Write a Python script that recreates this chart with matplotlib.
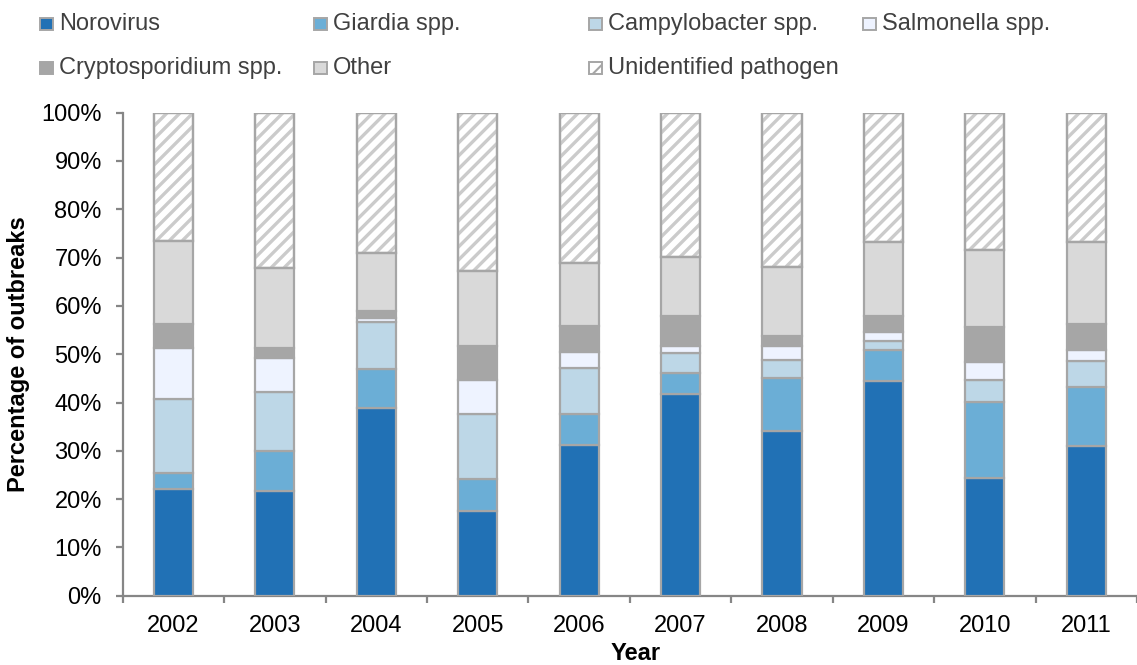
import numpy as np
import matplotlib.pyplot as plt
from matplotlib.patches import Rectangle
from matplotlib.collections import LineCollection
from matplotlib.transforms import IdentityTransform

plt.rcParams['font.family'] = ['Liberation Sans', 'DejaVu Sans']

years = ['2002', '2003', '2004', '2005', '2006', '2007', '2008', '2009', '2010', '2011']

# porcentaje de brotes por patógeno (cada serie en %)
norovirus = [22.0, 21.6, 38.8, 17.5, 31.1, 41.8, 34.1, 44.4, 24.3, 31.0]
giardia = [3.4, 8.3, 8.2, 6.7, 6.6, 4.3, 11.0, 6.4, 15.8, 12.3]
campylobacter = [15.4, 12.3, 9.7, 13.5, 9.4, 4.1, 3.6, 1.9, 4.5, 5.2]
salmonella = [10.5, 7.1, 0.7, 7.0, 3.3, 1.4, 3.1, 1.8, 3.8, 2.3]
cryptosporidium = [5.0, 2.0, 1.6, 7.1, 5.4, 6.3, 2.0, 3.4, 7.2, 5.5]
other = [17.2, 16.6, 11.9, 15.4, 13.1, 12.2, 14.3, 15.4, 15.9, 17.0]
unidentified = [26.5, 32.1, 29.1, 32.8, 31.1, 29.9, 31.9, 26.7, 28.5, 26.7]

series = [
    ("Norovirus", norovirus, "#2171b5"),
    ("Giardia spp.", giardia, "#6baed6"),
    ("Campylobacter spp.", campylobacter, "#bdd7e7"),
    ("Salmonella spp.", salmonella, "#eef3ff"),
    ("Cryptosporidium spp.", cryptosporidium, "#a6a6a6"),
    ("Other", other, "#d9d9d9"),
    ("Unidentified pathogen", unidentified, "white"),
]

W, H = 1137, 665
fig = plt.figure(figsize=(W / 100, H / 100), dpi=100)
ax = fig.add_axes([122.7 / W, 69.3 / H, 1 - 122.7 / W, (595.7 - 112.7) / H])

x = np.arange(len(years))
edge = "#a6a6a6"
hatch_col = "#cbcbcb"
width = 0.385

ax.set_xlim(-0.5, -0.5 + (W - 122.7) / 102.8)
ax.set_ylim(0, 100)

# rayado diagonal dibujado a mano (más denso que el hatch por defecto)
def diagonal_hatch(rect, step=13, lw=2.4):
    bb = rect.get_window_extent()
    segs = []
    for k in np.arange(-bb.height, bb.width + step, step):
        x0 = bb.x0 + k
        segs.append([(x0, bb.y0), (x0 + bb.height, bb.y1)])
    lc = LineCollection(segs, colors=hatch_col, linewidths=lw,
                        transform=IdentityTransform(), zorder=2.5)
    ax.add_collection(lc, autolim=False)
    lc.set_clip_path(rect)

bottom = np.zeros(len(years))
for name, vals, col in series:
    vals = np.array(vals)
    bars = ax.bar(x, vals, width, bottom=bottom, color=col, edgecolor=edge,
                  linewidth=1.6, zorder=3 if name != "Unidentified pathogen" else 2)
    if name == "Unidentified pathogen":
        for r in bars:
            diagonal_hatch(r)
        ax.bar(x, vals, width, bottom=bottom, fill=False, edgecolor=edge,
               linewidth=1.6, zorder=3)
    bottom += vals

ax.set_yticks(np.arange(0, 101, 10))
ax.set_yticklabels([f"{v}%" for v in range(0, 101, 10)])
ax.set_xticks(x)
ax.set_xticklabels(years)
ax.set_xticks(np.arange(-0.5, len(years), 1), minor=True)

for s in ['top', 'right']:
    ax.spines[s].set_visible(False)
for s in ['left', 'bottom']:
    ax.spines[s].set_color("#868686")
    ax.spines[s].set_linewidth(1.6)

ax.tick_params(axis='y', direction='out', length=5, width=1.6, color="#868686",
               labelsize=17, pad=10)
ax.tick_params(axis='x', which='major', length=0, labelsize=17, pad=14)
ax.tick_params(axis='x', which='minor', direction='out', length=5, width=1.6, color="#868686")

ax.set_ylabel("Percentage of outbreaks", fontsize=17, fontweight='bold')
ax.yaxis.set_label_coords(-(122.7 - 30) / (W - 122.7), 0.5)
fig.text(636 / W, 1 - 653 / H, "Year", fontsize=17, fontweight='bold',
         ha='center', va='center')

# leyenda manual en dos filas
plt.rcParams['hatch.linewidth'] = 1.5
for i, (name, vals, col) in enumerate(series):
    row, c = divmod(i, 4)
    if i == 6:
        c = 2
    if i >= 4:
        row = 1
    lx = 40 + c * 274.3
    ly = 24 + row * 44
    rect = Rectangle((lx / W, 1 - (ly + 6) / H), 13 / W, 12 / H, transform=fig.transFigure,
                     facecolor=col, edgecolor=edge, linewidth=1.4,
                     hatch="//" if name == "Unidentified pathogen" else None)
    fig.patches.append(rect)
    fig.text((lx + 19) / W, 1 - ly / H, name, fontsize=17, color="#404040",
             ha='left', va='center')

fig.savefig("out.png", dpi=100)
